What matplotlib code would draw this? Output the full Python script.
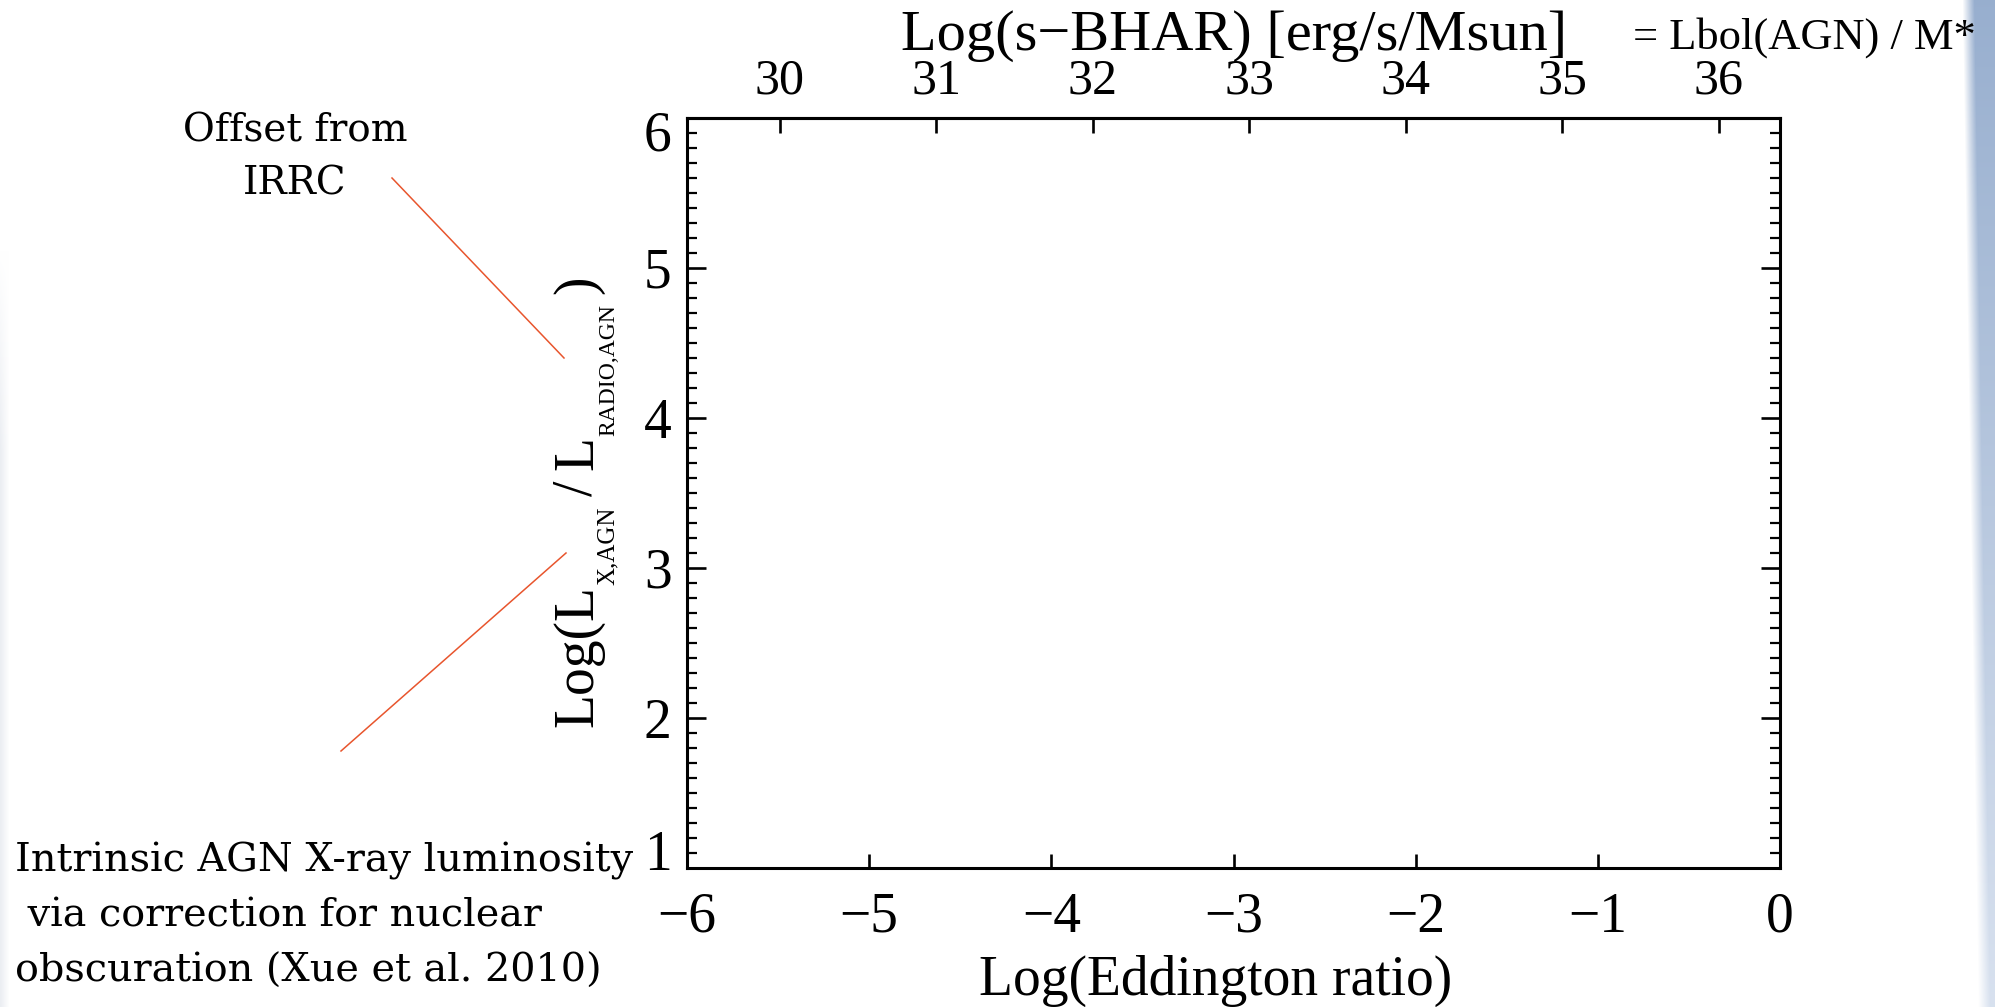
import numpy as np
import matplotlib
matplotlib.use("Agg")
import matplotlib.pyplot as plt
from matplotlib.lines import Line2D
from matplotlib.ticker import MultipleLocator
from matplotlib.transforms import ScaledTranslation

W, H = 1995, 1007
DPI = 100

# axis ranges and ticks
edd_range = [-6, 0]
ratio_range = [1, 6]
edd_ticks = [-6, -5, -4, -3, -2, -1, 0]
ratio_ticks = [1, 2, 3, 4, 5, 6]
bhar_ticks = [30, 31, 32, 33, 34, 35, 36]

# log(s-BHAR) = 30 sits at log(Edd) = -5.49, one unit every 0.859 in log(Edd)
bhar_ref = 30
edd_at_ref = -5.49
edd_per_bhar = 0.859

# pointer lines next to the side notes (figure pixels, origin top-left)
irrc_line = [(392, 178), (564, 358)]
xray_line = [(341, 751), (566, 553)]

irrc_note = ["Offset from", "IRRC"]
xray_note = ["Intrinsic AGN X-ray luminosity",
             " via correction for nuclear",
             "obscuration (Xue et al. 2010)"]

plt.rcParams['font.family'] = ['Liberation Serif', 'DejaVu Serif']
plt.rcParams['axes.unicode_minus'] = True


def fx(px):
    return px / W


def fy(py):
    return 1 - py / H


fig = plt.figure(figsize=(W / DPI, H / DPI), dpi=DPI)

# slide background: faint bluish bands at the left and right edges
bg = fig.add_axes([0, 0, 1, 1], zorder=-10)
bg.axis('off')
yy, xx = np.mgrid[0:H, 0:W].astype(float)
edge = 1962 + 16 * yy / H
w_r = np.clip((xx - edge) / 12, 0, 1) * 0.9
frac = (yy / H)[..., None]
blue = (1 - frac) * np.array([0.55, 0.65, 0.79]) + frac * np.array([0.83, 0.87, 0.93])
w_l = np.clip((9 - xx) / 9, 0, 1) * 0.35 * np.clip((yy - 250) / 200, 0, 1)
grey = np.array([0.78, 0.81, 0.86])
img = np.ones((H, W, 3))
img = img - w_r[..., None] * (1 - blue)
img = img - w_l[..., None] * (1 - grey)
bg.imshow(np.clip(img, 0, 1), extent=[0, W, H, 0], aspect='auto', interpolation='bilinear')
bg.set_xlim(0, W)
bg.set_ylim(H, 0)

# main panel
ax = fig.add_axes([fx(687), fy(868), (1780 - 687) / W, (868 - 118) / H])
ax.set_xlim(*edd_range)
ax.set_ylim(*ratio_range)
ax.set_xticks(edd_ticks)
ax.set_yticks(ratio_ticks)
ax.yaxis.set_minor_locator(MultipleLocator(0.1))
ax.tick_params(axis='x', which='major', direction='in', length=10, width=1.9,
               labelsize=40, pad=17, top=False, bottom=True)
ax.tick_params(axis='y', which='major', direction='in', length=14, width=1.9,
               labelsize=40, pad=11, left=True, right=True)
ax.tick_params(axis='y', which='minor', direction='in', length=7, width=1.6,
               left=True, right=True)
for s in ax.spines.values():
    s.set_linewidth(2.2)


def edd_to_bhar(x):
    return bhar_ref + (np.asarray(x) - edd_at_ref) / edd_per_bhar


def bhar_to_edd(b):
    return edd_at_ref + (np.asarray(b) - bhar_ref) * edd_per_bhar


sec = ax.secondary_xaxis('top', functions=(edd_to_bhar, bhar_to_edd))
sec.set_xticks(bhar_ticks)
sec.tick_params(direction='in', length=11, width=1.9, labelsize=36, pad=10)
sec.spines['top'].set_linewidth(2.2)

# end labels on the y axis sit inside the frame
yt = ax.yaxis.get_major_ticks(len(ratio_ticks))
yt[0].label1.set_transform(yt[0].label1.get_transform()
                           + ScaledTranslation(0, 0.18, fig.dpi_scale_trans))
yt[-1].label1.set_transform(yt[-1].label1.get_transform()
                            + ScaledTranslation(0, -0.13, fig.dpi_scale_trans))

# axis titles
fig.text(fx(1216), fy(995), 'Log(Eddington ratio)', fontsize=40,
         ha='center', va='baseline')
fig.text(fx(1234), fy(50), 'Log(s\u2212BHAR) [erg/s/Msun]', fontsize=42,
         ha='center', va='baseline')
fig.text(fx(1633), fy(49), '= Lbol(AGN) / M*', fontsize=32,
         ha='left', va='baseline')

# rotated y title with small subscripts, built piece by piece
renderer = fig.canvas.get_renderer()
pieces = [("Log(L", 40, 0, 0), ("X,AGN", 18, 22, 0), ("/", 40, 0, 11),
          ("L", 40, 0, 10), ("RADIO,AGN", 17, 22, 0), (")", 40, 0, 10)]
ypos = 727
for txt, size, drop, gap in pieces:
    ypos -= gap
    t = fig.text(fx(592 + drop), fy(ypos), txt, fontsize=size, rotation=90,
                 rotation_mode='anchor', ha='left', va='baseline')
    ypos -= t.get_window_extent(renderer).height

# side notes
for i, line in enumerate(irrc_note):
    fig.text(fx(295), fy(131 + 53 * i), line, fontsize=28, family='DejaVu Serif',
             ha='center', va='center')
for i, line in enumerate(xray_note):
    fig.text(fx(15), fy(861 + 55 * i), line, fontsize=28.6, family='DejaVu Serif',
             ha='left', va='center')

for (x0, y0), (x1, y1) in [irrc_line, xray_line]:
    fig.add_artist(Line2D([fx(x0), fx(x1)], [fy(y0), fy(y1)],
                          transform=fig.transFigure, color='#e8552d', lw=1.1))

fig.savefig('out.png', dpi=DPI)
